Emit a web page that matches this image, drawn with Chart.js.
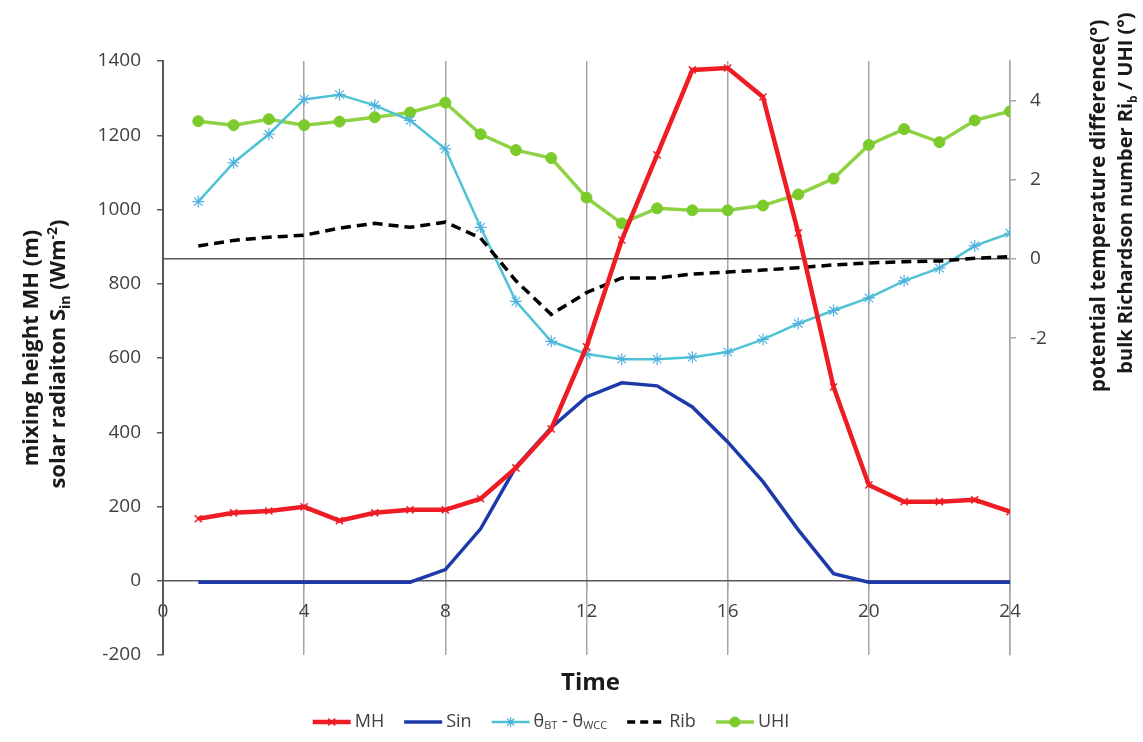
<!DOCTYPE html>
<html>
<head>
<meta charset="utf-8">
<title>Mixing height, solar radiation, Rib and UHI</title>
<script src="https://cdn.jsdelivr.net/npm/chart.js@4.4.1/dist/chart.umd.min.js"></script>
<style>
    html, body { margin: 0; padding: 0; background: #fff; }
    canvas { display: block; }
</style>
</head>
<body>
<canvas id="chart" width="1143" height="742"></canvas>
<script>
// --- hourly values ---
const HOURS = [1, 2, 3, 4, 5, 6, 7, 8, 9, 10, 11, 12, 13, 14, 15, 16, 17, 18, 19, 20, 21, 22, 23, 24];

// left axis (m, W m-2)
const MH = [167, 183, 188, 199, 162, 183, 191, 191, 221, 304, 409, 630, 918, 1147, 1376, 1381, 1303, 937, 522, 258, 213, 213, 218, 186];
const SIN = [-4, -4, -4, -4, -4, -4, -4, 30, 140, 307, 412, 495, 533, 525, 468, 374, 267, 137, 19, -4, -4, -4, -4, -4];

// right axis (°)
const THETA_DIFF = [1.45, 2.43, 3.15, 4.03, 4.15, 3.88, 3.5, 2.78, 0.8, -1.07, -2.08, -2.4, -2.53, -2.53, -2.48, -2.35, -2.03, -1.63, -1.3, -0.98, -0.55, -0.23, 0.33, 0.65];
const RIB = [0.33, 0.47, 0.55, 0.6, 0.78, 0.9, 0.8, 0.93, 0.53, -0.55, -1.4, -0.85, -0.48, -0.48, -0.38, -0.33, -0.28, -0.22, -0.15, -0.1, -0.07, -0.05, 0.02, 0.06];
const UHI = [3.48, 3.38, 3.53, 3.38, 3.47, 3.58, 3.7, 3.95, 3.15, 2.75, 2.55, 1.55, 0.9, 1.28, 1.23, 1.23, 1.35, 1.63, 2.03, 2.88, 3.28, 2.95, 3.5, 3.73];

const RIGHT_TICKS = [-2, 0, 2, 4];

const FONT = "'Open Sans', 'Liberation Sans', sans-serif";
const TICK_COLOR = '#404040';

const COLORS = {
    mh: '#ee1c25',
    sin: '#1c3aa9',
    theta: '#4ec3d4',
    thetaMark: '#4fb0e0',
    rib: '#000000',
    uhi: '#8ed246',
    uhiMark: '#7ccb2c'
};

function toPoints(vals) {
    return HOURS.map((h, i) => ({ x: h, y: vals[i] }));
}

// text with sub/superscripts, drawn on the canvas
function measureRich(ctx, parts, size, weight) {
    let w = 0;
    parts.forEach(p => {
        const s = (p.sub || p.sup) ? Math.round(size * 0.62) : size;
        ctx.font = `${weight} ${s}px ${FONT}`;
        w += ctx.measureText(p.t).width;
    });
    return w;
}

function fillRich(ctx, parts, x, y, size, weight) {
    parts.forEach(p => {
        const s = (p.sub || p.sup) ? Math.round(size * 0.62) : size;
        const dy = p.sub ? size * 0.22 : (p.sup ? -size * 0.38 : 0);
        ctx.font = `${weight} ${s}px ${FONT}`;
        ctx.fillText(p.t, x, y + dy);
        x += ctx.measureText(p.t).width;
    });
    return x;
}

function drawVertical(ctx, parts, cx, cy, size) {
    ctx.save();
    ctx.translate(cx, cy);
    ctx.rotate(-Math.PI / 2);
    ctx.textAlign = 'left';
    ctx.textBaseline = 'alphabetic';
    const w = measureRich(ctx, parts, size, 'bold');
    fillRich(ctx, parts, -w / 2, size * 0.36, size, 'bold');
    ctx.restore();
}

const LEGEND = [
    { kind: 'mh', parts: [{ t: 'MH' }] },
    { kind: 'sin', parts: [{ t: 'Sin' }] },
    { kind: 'theta', parts: [{ t: 'θ' }, { t: 'BT', sub: true }, { t: ' - θ' }, { t: 'WCC', sub: true }] },
    { kind: 'rib', parts: [{ t: 'Rib' }] },
    { kind: 'uhi', parts: [{ t: 'UHI' }] }
];

function drawSample(ctx, kind, x, y, w) {
    const mid = x + w / 2;
    ctx.save();
    ctx.beginPath();
    ctx.moveTo(x, y);
    ctx.lineTo(x + w, y);
    if (kind === 'mh') { ctx.strokeStyle = COLORS.mh; ctx.lineWidth = 4.5; }
    if (kind === 'sin') { ctx.strokeStyle = COLORS.sin; ctx.lineWidth = 3.5; }
    if (kind === 'theta') { ctx.strokeStyle = COLORS.theta; ctx.lineWidth = 2.5; }
    if (kind === 'rib') { ctx.strokeStyle = COLORS.rib; ctx.lineWidth = 3.5; ctx.setLineDash([8, 5]); }
    if (kind === 'uhi') { ctx.strokeStyle = COLORS.uhi; ctx.lineWidth = 3.5; }
    ctx.stroke();
    ctx.setLineDash([]);
    const hp = Chart.helpers;
    if (hp && hp.drawPoint) {
        if (kind === 'mh') {
            ctx.strokeStyle = COLORS.mh; ctx.lineWidth = 1.5;
            hp.drawPoint(ctx, { pointStyle: 'crossRot', radius: 5, borderWidth: 1.5 }, mid, y);
        }
        if (kind === 'theta') {
            ctx.strokeStyle = COLORS.thetaMark; ctx.lineWidth = 1.2;
            hp.drawPoint(ctx, { pointStyle: 'star', radius: 5, borderWidth: 1.2 }, mid, y);
        }
        if (kind === 'uhi') {
            ctx.fillStyle = COLORS.uhiMark; ctx.strokeStyle = COLORS.uhiMark; ctx.lineWidth = 1;
            hp.drawPoint(ctx, { pointStyle: 'circle', radius: 5, borderWidth: 1 }, mid, y);
        }
    }
    ctx.restore();
}

const richTextPlugin = {
    id: 'richText',
    afterDraw(chart) {
        const ctx = chart.ctx;
        const area = chart.chartArea;
        ctx.save();
        ctx.fillStyle = '#1a1a1a';

        // axis titles
        drawVertical(ctx, [{ t: 'mixing height MH (m)' }], 30, 348, 22);
        drawVertical(ctx, [{ t: 'solar radiaiton S' }, { t: 'in', sub: true }, { t: ' (Wm' }, { t: '-2', sup: true }, { t: ')' }], 57, 354, 22);
        drawVertical(ctx, [{ t: 'potential temperature difference(°)' }], 1097, 206, 21);
        drawVertical(ctx, [{ t: 'bulk Richardson number Ri' }, { t: 'b', sub: true }, { t: ' / UHI (°)' }], 1125, 193, 20);

        ctx.font = `bold 24px ${FONT}`;
        ctx.textAlign = 'center';
        ctx.textBaseline = 'middle';
        ctx.fillText('Time', (area.left + area.right) / 2 + 4, 683);

        // legend
        const size = 18, sampleW = 38, gapText = 4, gapItem = 20, ly = 722;
        ctx.textAlign = 'left';
        ctx.textBaseline = 'middle';
        let total = 0;
        const widths = LEGEND.map(it => measureRich(ctx, it.parts, size, 'normal'));
        widths.forEach(w => { total += sampleW + gapText + w; });
        total += gapItem * (LEGEND.length - 1);
        let x = 551 - total / 2;
        LEGEND.forEach((it, i) => {
            drawSample(ctx, it.kind, x, ly, sampleW);
            x += sampleW + gapText;
            ctx.fillStyle = TICK_COLOR;
            fillRich(ctx, it.parts, x, ly, size, 'normal');
            x += widths[i] + gapItem;
        });
        ctx.restore();
    }
};

const tickFont = { family: FONT, size: 19 };

new Chart(document.getElementById('chart'), {
    type: 'line',
    data: {
        datasets: [
            {
                label: 'MH', data: toPoints(MH), yAxisID: 'y',
                borderColor: COLORS.mh, borderWidth: 4.5, tension: 0,
                pointStyle: 'crossRot', pointRadius: 5, pointBorderWidth: 1.5,
                pointBorderColor: COLORS.mh, pointBackgroundColor: COLORS.mh
            },
            {
                label: 'Sin', data: toPoints(SIN), yAxisID: 'y',
                borderColor: COLORS.sin, borderWidth: 3.5, tension: 0, pointRadius: 0
            },
            {
                label: 'Rib', data: toPoints(RIB), yAxisID: 'y2',
                borderColor: COLORS.rib, borderWidth: 3.5, borderDash: [10, 6], tension: 0, pointRadius: 0
            },
            {
                label: 'θBT - θWCC', data: toPoints(THETA_DIFF), yAxisID: 'y2',
                borderColor: COLORS.theta, borderWidth: 2.5, tension: 0,
                pointStyle: 'star', pointRadius: 6, pointBorderWidth: 1.2,
                pointBorderColor: COLORS.thetaMark, pointBackgroundColor: COLORS.thetaMark
            },
            {
                label: 'UHI', data: toPoints(UHI), yAxisID: 'y2',
                borderColor: COLORS.uhi, borderWidth: 3.5, tension: 0,
                pointStyle: 'circle', pointRadius: 5.5, pointBorderWidth: 1,
                pointBorderColor: COLORS.uhiMark, pointBackgroundColor: COLORS.uhiMark
            }
        ]
    },
    options: {
        responsive: false,
        animation: false,
        layout: { padding: { top: 61, bottom: 87, left: 0, right: 0 } },
        plugins: {
            legend: { display: false },
            tooltip: { enabled: false }
        },
        scales: {
            x: {
                type: 'linear',
                position: { y: 0 },
                min: 0,
                max: 24,
                ticks: { stepSize: 4, font: tickFont, color: TICK_COLOR, padding: 11, maxRotation: 0 },
                grid: { color: '#a6a6a6', lineWidth: 1.5, tickLength: 8, tickColor: '#a6a6a6' },
                border: { color: '#595959', width: 1.5 }
            },
            y: {
                position: 'left',
                min: -200,
                max: 1400,
                ticks: {
                    stepSize: 200, font: tickFont, color: TICK_COLOR, padding: 16,
                    callback: v => String(v)
                },
                grid: { drawOnChartArea: false, tickLength: 6, tickColor: '#595959', lineWidth: 1.5 },
                border: { color: '#595959', width: 2 },
                afterFit(scale) { scale.width = 163; }
            },
            y2: {
                position: 'right',
                min: -10,
                max: 5,
                afterBuildTicks(scale) {
                    scale.ticks = RIGHT_TICKS.map(v => ({ value: v }));
                },
                ticks: { font: tickFont, color: TICK_COLOR, padding: 14 },
                grid: {
                    color: c => (c.tick && c.tick.value === 0) ? '#595959' : 'rgba(0,0,0,0)',
                    lineWidth: 1.5,
                    tickLength: 6,
                    tickColor: '#a6a6a6'
                },
                border: { color: '#a6a6a6', width: 1.5 },
                afterFit(scale) { scale.width = 133; }
            }
        }
    },
    plugins: [richTextPlugin]
});
</script>
</body>
</html>
